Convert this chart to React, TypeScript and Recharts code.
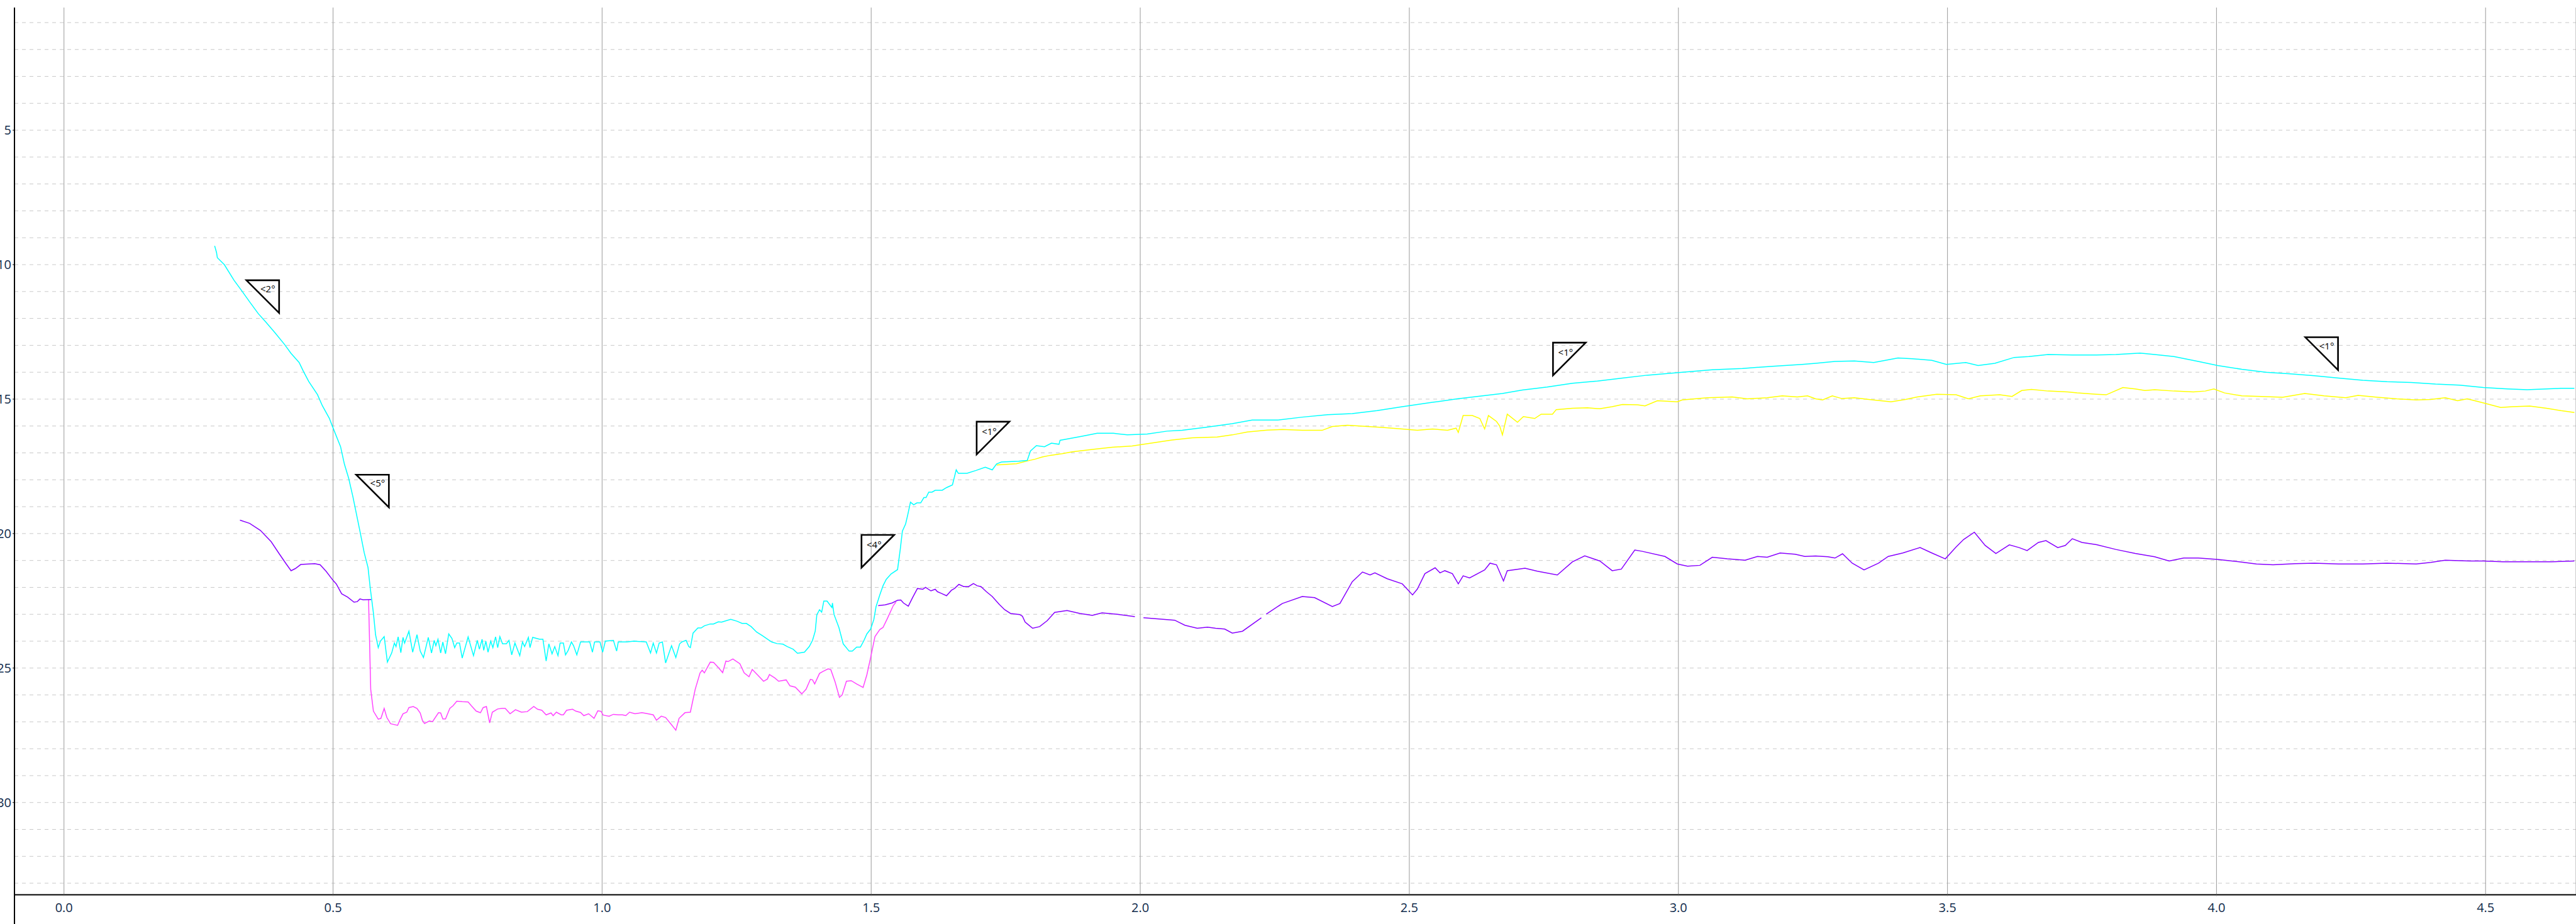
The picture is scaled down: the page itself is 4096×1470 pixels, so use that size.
import { CartesianGrid, ComposedChart, Line, Scatter, XAxis, YAxis } from "recharts";

const xTicks = [0, 0.5, 1, 1.5, 2, 2.5, 3, 3.5, 4, 4.5];
const yTicks = [5, 10, 15, 20, 25, 30];
const gridY = [1, 2, 3, 4, 5, 6, 7, 8, 9, 10, 11, 12, 13, 14, 15, 16, 17, 18, 19, 20, 21, 22, 23, 24, 25, 26, 27, 28, 29, 30, 31, 32, 33];

const cyan: [number, number][] = [
  [0.28, 9.3], [0.2835, 9.55], [0.285, 9.74], [0.298, 10.0], [0.316, 10.58], [0.331, 10.99], [0.346, 11.41],
  [0.361, 11.82], [0.374, 12.11], [0.392, 12.53], [0.41, 12.97], [0.422, 13.3], [0.437, 13.64], [0.445, 13.97],
  [0.455, 14.35], [0.471, 14.83], [0.48, 15.24], [0.493, 15.71], [0.501, 16.12], [0.514, 16.77], [0.521, 17.41],
  [0.529, 17.94], [0.537, 18.64], [0.55, 19.91], [0.558, 20.72], [0.565, 21.26], [0.569, 22.0], [0.575, 22.95],
  [0.579, 23.76], [0.584, 24.24], [0.588, 24.0], [0.595, 23.83], [0.601, 24.78], [0.609, 24.44], [0.614, 24.07],
  [0.617, 24.2], [0.621, 23.84], [0.626, 24.43], [0.63, 23.86], [0.633, 24.07], [0.641, 23.63], [0.648, 24.41],
  [0.656, 23.76], [0.662, 24.37], [0.668, 24.61], [0.677, 23.86], [0.683, 24.44], [0.688, 23.97], [0.691, 24.17],
  [0.695, 23.93], [0.7, 24.44], [0.704, 24.03], [0.709, 24.47], [0.715, 23.73], [0.721, 23.9], [0.726, 24.24],
  [0.73, 24.07], [0.735, 24.07], [0.74, 24.63], [0.751, 23.84], [0.761, 24.54], [0.768, 23.97], [0.772, 24.3],
  [0.777, 23.93], [0.78, 24.34], [0.784, 24.0], [0.788, 24.41], [0.793, 24.0], [0.797, 24.24], [0.802, 23.84],
  [0.806, 24.24], [0.81, 23.83], [0.815, 24.1], [0.822, 24.1], [0.827, 23.97], [0.832, 24.51], [0.838, 24.07],
  [0.847, 24.54], [0.852, 24.03], [0.856, 24.2], [0.863, 23.86], [0.866, 24.24], [0.871, 23.86], [0.884, 23.93],
  [0.89, 23.93], [0.896, 24.74], [0.901, 24.1], [0.907, 24.47], [0.912, 24.2], [0.918, 24.54], [0.922, 24.07],
  [0.928, 24.07], [0.932, 24.51], [0.937, 24.34], [0.943, 24.03], [0.947, 24.17], [0.953, 24.51], [0.96, 24.03],
  [0.977, 24.03], [0.982, 24.41], [0.986, 24.03], [0.996, 24.03], [1.001, 24.41], [1.006, 24.0], [1.021, 23.97],
  [1.027, 24.37], [1.03, 24.03], [1.046, 24.03], [1.059, 24.0], [1.082, 24.03], [1.09, 24.44], [1.095, 24.07],
  [1.101, 24.44], [1.106, 24.07], [1.112, 24.03], [1.118, 24.81], [1.129, 24.17], [1.137, 24.61], [1.144, 24.1],
  [1.148, 24.03], [1.156, 23.97], [1.161, 24.2], [1.164, 24.24], [1.169, 23.7], [1.178, 23.51], [1.184, 23.51],
  [1.19, 23.43], [1.201, 23.36], [1.207, 23.36], [1.216, 23.28], [1.222, 23.29], [1.239, 23.19], [1.251, 23.26],
  [1.26, 23.34], [1.268, 23.34], [1.277, 23.46], [1.287, 23.66], [1.298, 23.8], [1.315, 24.03], [1.325, 24.09],
  [1.336, 24.11], [1.344, 24.2], [1.355, 24.3], [1.363, 24.45], [1.376, 24.41], [1.385, 24.2], [1.391, 23.97],
  [1.396, 23.63], [1.399, 23.02], [1.404, 22.83], [1.408, 22.92], [1.412, 22.51], [1.418, 22.51], [1.427, 22.75],
  [1.428, 22.58], [1.431, 23.01], [1.44, 23.49], [1.448, 24.1], [1.459, 24.37], [1.465, 24.37], [1.473, 24.22],
  [1.48, 24.22], [1.486, 24.0], [1.492, 23.73], [1.499, 23.55], [1.505, 23.19], [1.509, 22.72], [1.516, 22.28],
  [1.522, 21.94], [1.528, 21.7], [1.537, 21.5], [1.549, 21.34], [1.554, 20.59], [1.558, 19.91], [1.564, 19.64],
  [1.568, 19.3], [1.573, 18.83], [1.579, 18.93], [1.585, 18.86], [1.592, 18.86], [1.598, 18.66], [1.602, 18.66],
  [1.607, 18.46], [1.613, 18.46], [1.619, 18.39], [1.632, 18.39], [1.64, 18.29], [1.651, 18.19], [1.658, 17.63],
  [1.662, 17.76], [1.678, 17.76], [1.695, 17.65], [1.712, 17.53], [1.725, 17.63], [1.733, 17.41], [1.742, 17.34],
  [1.774, 17.31], [1.79, 17.28], [1.796, 16.93], [1.807, 16.73], [1.822, 16.77], [1.835, 16.64], [1.849, 16.68],
  [1.851, 16.53], [1.862, 16.49], [1.892, 16.38], [1.92, 16.27], [1.95, 16.27], [1.976, 16.33], [2.013, 16.3],
  [2.05, 16.19], [2.078, 16.16], [2.12, 16.05], [2.171, 15.91], [2.208, 15.78], [2.255, 15.78], [2.301, 15.67],
  [2.348, 15.58], [2.394, 15.54], [2.44, 15.43], [2.487, 15.28], [2.543, 15.12], [2.589, 14.99], [2.636, 14.88],
  [2.673, 14.79], [2.71, 14.66], [2.756, 14.55], [2.803, 14.41], [2.849, 14.33], [2.896, 14.22], [2.942, 14.11],
  [3.007, 14.0], [3.063, 13.91], [3.119, 13.86], [3.175, 13.78], [3.23, 13.71], [3.255, 13.67], [3.291, 13.6],
  [3.327, 13.58], [3.363, 13.64], [3.408, 13.47], [3.435, 13.5], [3.471, 13.56], [3.498, 13.71], [3.534, 13.64],
  [3.557, 13.75], [3.588, 13.67], [3.624, 13.45], [3.651, 13.42], [3.687, 13.34], [3.732, 13.36], [3.777, 13.36],
  [3.813, 13.34], [3.858, 13.29], [3.885, 13.34], [3.921, 13.42], [3.966, 13.6], [4.002, 13.75], [4.047, 13.89],
  [4.092, 14.0], [4.137, 14.06], [4.182, 14.13], [4.227, 14.22], [4.272, 14.3], [4.317, 14.35], [4.362, 14.38],
  [4.407, 14.44], [4.452, 14.48], [4.496, 14.57], [4.541, 14.62], [4.577, 14.65], [4.613, 14.62], [4.64, 14.6],
  [4.665, 14.6],
];

const yellow: [number, number][] = [
  [1.733, 17.45], [1.77, 17.4], [1.79, 17.3], [1.805, 17.23], [1.818, 17.15], [1.833, 17.09], [1.855, 17.03],
  [1.874, 16.96], [1.911, 16.87], [1.948, 16.79], [1.985, 16.74], [2.022, 16.63], [2.059, 16.52], [2.097, 16.44],
  [2.143, 16.41], [2.171, 16.33], [2.199, 16.22], [2.236, 16.15], [2.264, 16.13], [2.301, 16.16], [2.338, 16.16],
  [2.357, 16.02], [2.385, 15.97], [2.422, 16.02], [2.45, 16.05], [2.487, 16.11], [2.515, 16.16], [2.543, 16.11],
  [2.571, 16.16], [2.587, 16.08], [2.591, 16.24], [2.6, 15.61], [2.617, 15.61], [2.631, 15.72], [2.64, 16.11],
  [2.647, 15.61], [2.662, 15.83], [2.668, 16.0], [2.673, 16.33], [2.682, 15.56], [2.701, 15.86], [2.712, 15.65],
  [2.733, 15.72], [2.745, 15.56], [2.766, 15.56], [2.773, 15.39], [2.803, 15.34], [2.831, 15.32], [2.854, 15.36],
  [2.877, 15.28], [2.896, 15.2], [2.924, 15.21], [2.938, 15.25], [2.961, 15.06], [2.998, 15.1], [3.007, 15.03],
  [3.054, 14.95], [3.1, 14.92], [3.128, 14.99], [3.165, 14.95], [3.193, 14.88], [3.221, 14.92], [3.24, 14.88],
  [3.255, 14.99], [3.268, 15.03], [3.286, 14.88], [3.304, 14.98], [3.327, 14.95], [3.354, 15.01], [3.395, 15.1],
  [3.422, 15.01], [3.444, 14.92], [3.48, 14.82], [3.516, 14.84], [3.539, 14.99], [3.561, 14.88], [3.597, 14.84],
  [3.62, 14.9], [3.638, 14.68], [3.656, 14.64], [3.687, 14.7], [3.723, 14.73], [3.741, 14.77], [3.777, 14.82],
  [3.795, 14.84], [3.826, 14.57], [3.849, 14.62], [3.867, 14.68], [3.885, 14.65], [3.921, 14.7], [3.957, 14.73],
  [3.979, 14.7], [3.995, 14.62], [4.015, 14.77], [4.047, 14.88], [4.083, 14.9], [4.123, 14.93], [4.164, 14.79],
  [4.2, 14.88], [4.24, 14.95], [4.263, 14.86], [4.299, 14.93], [4.335, 14.99], [4.371, 15.03], [4.398, 15.01],
  [4.425, 14.95], [4.448, 15.06], [4.466, 14.99], [4.496, 15.14], [4.528, 15.31], [4.55, 15.28], [4.582, 15.26],
  [4.613, 15.34], [4.64, 15.43], [4.665, 15.5],
];

const pink: [number, number][] = [
  [0.566, 22.46], [0.57, 25.79], [0.575, 26.6], [0.584, 26.9], [0.589, 26.87], [0.595, 26.5], [0.6, 26.84],
  [0.607, 27.07], [0.62, 27.13], [0.624, 26.94], [0.63, 26.7], [0.637, 26.64], [0.641, 26.47], [0.649, 26.43],
  [0.656, 26.5], [0.662, 26.67], [0.666, 26.94], [0.67, 27.06], [0.679, 26.97], [0.685, 26.99], [0.696, 26.66],
  [0.7, 26.67], [0.704, 26.89], [0.709, 26.89], [0.717, 26.5], [0.723, 26.4], [0.73, 26.23], [0.74, 26.25],
  [0.751, 26.26], [0.757, 26.4], [0.766, 26.6], [0.774, 26.66], [0.779, 26.47], [0.785, 26.43], [0.791, 27.04],
  [0.796, 26.64], [0.806, 26.52], [0.814, 26.5], [0.82, 26.5], [0.829, 26.7], [0.839, 26.55], [0.85, 26.64],
  [0.861, 26.62], [0.873, 26.43], [0.88, 26.53], [0.888, 26.57], [0.896, 26.74], [0.905, 26.67], [0.909, 26.77],
  [0.915, 26.64], [0.924, 26.74], [0.928, 26.74], [0.934, 26.57], [0.945, 26.53], [0.951, 26.6], [0.96, 26.65],
  [0.966, 26.77], [0.975, 26.7], [0.985, 26.87], [0.992, 26.59], [0.998, 26.61], [1.002, 26.75], [1.013, 26.79],
  [1.021, 26.72], [1.03, 26.74], [1.038, 26.74], [1.044, 26.77], [1.051, 26.64], [1.061, 26.7], [1.074, 26.66],
  [1.085, 26.7], [1.095, 26.74], [1.101, 26.94], [1.11, 26.79], [1.118, 26.84], [1.129, 27.11], [1.137, 27.31],
  [1.143, 26.87], [1.154, 26.66], [1.164, 26.64], [1.173, 25.79], [1.182, 25.18], [1.186, 25.08], [1.19, 25.18],
  [1.201, 24.78], [1.207, 24.79], [1.216, 24.98], [1.224, 25.17], [1.23, 24.74], [1.234, 24.76], [1.243, 24.66],
  [1.256, 24.84], [1.264, 25.18], [1.273, 25.32], [1.279, 25.05], [1.29, 25.28], [1.3, 25.49], [1.307, 25.41],
  [1.311, 25.24], [1.321, 25.37], [1.328, 25.49], [1.342, 25.44], [1.349, 25.66], [1.359, 25.71], [1.371, 25.96],
  [1.379, 25.79], [1.387, 25.42], [1.391, 25.44], [1.395, 25.59], [1.404, 25.2], [1.41, 25.13], [1.42, 25.03],
  [1.425, 25.06], [1.433, 25.52], [1.441, 26.09], [1.446, 26.0], [1.454, 25.49], [1.463, 25.47], [1.473, 25.59],
  [1.485, 25.72], [1.492, 25.25], [1.499, 24.61], [1.507, 23.83], [1.516, 23.57], [1.522, 23.49], [1.53, 23.16],
  [1.541, 22.68], [1.546, 22.55],
];

// null entries break the purple trace where the source has gaps
const purple: [number, number | null][] = [
  [0.327, 19.5], [0.345, 19.62], [0.365, 19.88], [0.385, 20.3], [0.4, 20.75], [0.412, 21.1], [0.422, 21.38],
  [0.43, 21.3], [0.44, 21.15], [0.455, 21.13], [0.466, 21.12], [0.476, 21.16], [0.487, 21.4], [0.5, 21.74],
  [0.506, 21.87], [0.516, 22.24], [0.527, 22.36], [0.539, 22.55], [0.545, 22.53], [0.55, 22.43], [0.556, 22.46],
  [0.571, 22.45],
  [1.0, null],
  [1.513, 22.68], [1.526, 22.65], [1.539, 22.58], [1.549, 22.48], [1.555, 22.47], [1.56, 22.58], [1.569, 22.7],
  [1.577, 22.38], [1.586, 22.04], [1.596, 22.07], [1.601, 22.0], [1.611, 22.13], [1.619, 22.07], [1.623, 22.16],
  [1.63, 22.22], [1.64, 22.31], [1.649, 22.11], [1.655, 22.04], [1.663, 21.89], [1.672, 21.97], [1.681, 21.97],
  [1.69, 21.86], [1.697, 21.94], [1.704, 21.97], [1.714, 22.16], [1.725, 22.34], [1.738, 22.63], [1.748, 22.83],
  [1.759, 22.97], [1.776, 23.01], [1.781, 23.07], [1.786, 23.29], [1.792, 23.39], [1.8, 23.52], [1.813, 23.46],
  [1.827, 23.24], [1.841, 22.93], [1.864, 22.86], [1.888, 22.97], [1.911, 23.04], [1.929, 22.95], [1.957, 23.0],
  [1.99, 23.09],
  [1.998, null],
  [2.006, 23.13], [2.064, 23.22], [2.083, 23.41], [2.106, 23.52], [2.125, 23.48], [2.14, 23.52], [2.157, 23.55],
  [2.171, 23.7], [2.19, 23.63], [2.225, 23.13],
  [2.23, null],
  [2.234, 23.0], [2.264, 22.6], [2.301, 22.34], [2.324, 22.38], [2.357, 22.71], [2.371, 22.6], [2.394, 21.79],
  [2.413, 21.43], [2.427, 21.54], [2.436, 21.46], [2.459, 21.68], [2.487, 21.87], [2.506, 22.28], [2.515, 22.06],
  [2.529, 21.49], [2.548, 21.27], [2.557, 21.46], [2.566, 21.38], [2.58, 21.49], [2.591, 21.87], [2.6, 21.57],
  [2.612, 21.65], [2.64, 21.35], [2.65, 21.1], [2.662, 21.16], [2.675, 21.76], [2.682, 21.38], [2.715, 21.29],
  [2.738, 21.4], [2.775, 21.54], [2.803, 21.05], [2.826, 20.83], [2.854, 21.02], [2.877, 21.38], [2.894, 21.32],
  [2.919, 20.61], [2.933, 20.66], [2.975, 20.85], [2.998, 21.13], [3.017, 21.21], [3.04, 21.18], [3.063, 20.88],
  [3.091, 20.94], [3.124, 20.99], [3.147, 20.85], [3.165, 20.88], [3.189, 20.72], [3.217, 20.77], [3.235, 20.85],
  [3.255, 20.83], [3.278, 20.86], [3.291, 20.91], [3.305, 20.75], [3.323, 21.1], [3.345, 21.35], [3.372, 21.1],
  [3.39, 20.85], [3.417, 20.72], [3.449, 20.52], [3.471, 20.72], [3.496, 20.94], [3.516, 20.5], [3.53, 20.22],
  [3.55, 19.95], [3.57, 20.44], [3.59, 20.74], [3.615, 20.42], [3.633, 20.52], [3.648, 20.63], [3.669, 20.33],
  [3.683, 20.26], [3.705, 20.52], [3.719, 20.44], [3.732, 20.19], [3.75, 20.33], [3.777, 20.41], [3.813, 20.59],
  [3.849, 20.74], [3.885, 20.86], [3.912, 21.02], [3.939, 20.91], [3.966, 20.91], [4.002, 20.96], [4.042, 21.05],
  [4.074, 21.13], [4.105, 21.16], [4.146, 21.12], [4.182, 21.1], [4.227, 21.13], [4.272, 21.13], [4.317, 21.1],
  [4.371, 21.13], [4.398, 21.07], [4.425, 20.99], [4.47, 21.02], [4.496, 21.02], [4.532, 21.05], [4.577, 21.05],
  [4.622, 21.05], [4.665, 21.02],
];

// slope flags: anchored at the top-left corner of the triangle
const markers = [
  { x: 0.339, y: 10.58, label: "<2°", dir: "down" },
  { x: 0.543, y: 17.81, label: "<5°", dir: "down" },
  { x: 1.482, y: 20.05, label: "<4°", dir: "up" },
  { x: 1.696, y: 15.84, label: "<1°", dir: "up" },
  { x: 2.767, y: 12.9, label: "<1°", dir: "up" },
  { x: 4.165, y: 12.7, label: "<1°", dir: "down" },
];

const toPts = (arr: [number, number | null][]) => arr.map(([x, y]) => ({ x, y }));

const FONT = "'Open Sans', 'Noto Sans', sans-serif";
const TICK = { fill: "#0f2a4b", fontSize: 20, fontFamily: FONT };

function SlopeFlag(props: any) {
  const { cx, cy, payload } = props;
  const s = 52;
  const down = payload.dir === "down";
  const d = down
    ? `M${cx},${cy} L${cx + s},${cy} L${cx + s},${cy + s} Z`
    : `M${cx},${cy + s} L${cx},${cy} L${cx + s},${cy} Z`;
  const tx = down ? cx + 34 : cx + 20;
  const ty = down ? cy + 13 : cy + 15;
  return (
    <g>
      <path d={d} fill="none" stroke="#000" strokeWidth={2.6} strokeLinejoin="miter" />
      <text x={tx} y={ty} textAnchor="middle" dominantBaseline="central" fontSize={15} fontFamily={FONT} fill="#000">
        {payload.label}
      </text>
    </g>
  );
}

export default function App() {
  const xDomain = [-0.092, 4.668];
  const yDomain = [0.44, 33.43];
  return (
    <div style={{ position: "fixed", left: 0, top: 0, width: 4096, height: 1470, background: "#fff" }}>
      <ComposedChart width={4096} height={1470} margin={{ top: 12, right: 0, bottom: 0, left: 0 }}>
        <CartesianGrid vertical={false} horizontalValues={gridY} stroke="#c9c9c9" strokeDasharray="6 6" />
        <CartesianGrid horizontal={false} stroke="#a3a3a3" strokeWidth={1.1} />
        <XAxis
          type="number"
          dataKey="x"
          domain={xDomain}
          allowDataOverflow
          ticks={xTicks}
          tickFormatter={(v: number) => v.toFixed(1)}
          height={46.5}
          tick={TICK}
          tickSize={2}
          tickMargin={11}
          axisLine={{ stroke: "#000", strokeWidth: 2 }}
          tickLine={{ stroke: "#888" }}
        />
        <XAxis
          xAxisId="top"
          orientation="top"
          type="number"
          domain={xDomain}
          allowDataOverflow
          height={0}
          tick={false}
          tickLine={false}
          axisLine={{ stroke: "#000", strokeWidth: 2 }}
        />
        <YAxis
          type="number"
          domain={yDomain}
          allowDataOverflow
          reversed
          ticks={yTicks}
          width={23}
          tick={TICK}
          tickSize={3}
          tickMargin={2}
          axisLine={{ stroke: "#000", strokeWidth: 2 }}
          tickLine={{ stroke: "#000" }}
        />
        <Line data={toPts(pink)} dataKey="y" stroke="#ff44ff" strokeWidth={1.5} dot={false} isAnimationActive={false} />
        <Line data={toPts(purple)} dataKey="y" stroke="#8800ff" strokeWidth={1.5} dot={false} isAnimationActive={false} />
        <Line data={toPts(yellow)} dataKey="y" stroke="#ffff00" strokeWidth={1.5} dot={false} isAnimationActive={false} />
        <Line data={toPts(cyan)} dataKey="y" stroke="#00ffff" strokeWidth={1.5} dot={false} isAnimationActive={false} />
        <Scatter data={markers} dataKey="y" shape={SlopeFlag} isAnimationActive={false} />
      </ComposedChart>
      <div style={{ position: "absolute", left: 22.2, top: 1423, width: 2, height: 47, background: "#000" }} />
    </div>
  );
}
